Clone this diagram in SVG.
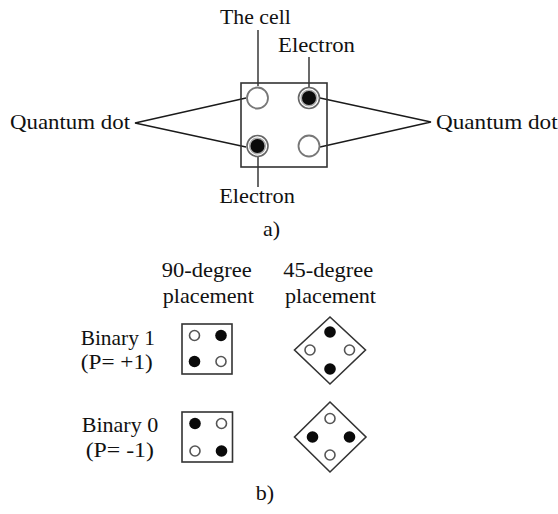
<svg xmlns="http://www.w3.org/2000/svg" width="558" height="514" viewBox="0 0 558 514">
<style>
text{font-family:"Liberation Serif","Times New Roman",serif;font-size:22px;fill:#111;text-anchor:middle}
.ln{stroke:#1a1a1a;stroke-width:1.3;fill:none}
.box{fill:none;stroke:#333;stroke-width:1.6}
.qd{fill:#fff;stroke:#777;stroke-width:1.8}
.el{fill:#0a0a0a;stroke:#aaa;stroke-width:1.6}
.so{fill:#fff;stroke:#555;stroke-width:1.6}
.sf{fill:#0a0a0a;stroke:none}
</style>
<rect width="558" height="514" fill="#fff"/>
<g id="connectors">
<line class="ln" x1="258" y1="30" x2="258" y2="86"/>
<line class="ln" x1="309" y1="57" x2="309" y2="87"/>
<line class="ln" x1="258" y1="157" x2="258" y2="187"/>
<polyline class="ln" points="246,98 135,123 246,147"/>
<polyline class="ln" points="320,98 431,122 320,147"/>
</g>
<g id="cell">
<rect class="box" x="241" y="83" width="86" height="84"/>
<circle id="dot-tl" class="qd" cx="257.5" cy="98" r="10.5"/>
<g id="dot-tr"><circle cx="309" cy="98" r="10.5" fill="#fff" stroke="#666" stroke-width="1.6"/><circle class="el" cx="309" cy="98" r="7.8"/></g>
<g id="dot-bl"><circle cx="257.5" cy="146" r="10.5" fill="#fff" stroke="#666" stroke-width="1.6"/><circle class="el" cx="257.5" cy="146" r="7.8"/></g>
<circle id="dot-br" class="qd" cx="309" cy="146" r="10.5"/>
</g>
<g id="labels-a">
<text x="255.4" y="24" textLength="70.7" lengthAdjust="spacingAndGlyphs">The cell</text>
<text x="316.5" y="52" textLength="77" lengthAdjust="spacingAndGlyphs">Electron</text>
<text x="257" y="203" textLength="75.7" lengthAdjust="spacingAndGlyphs">Electron</text>
<text x="70" y="129" textLength="120" lengthAdjust="spacingAndGlyphs">Quantum dot</text>
<text x="496.8" y="129" textLength="121.7" lengthAdjust="spacingAndGlyphs">Quantum dot</text>
<text x="271.5" y="236">a)</text>
</g>
<g id="labels-b">
<text x="206.7" y="277" textLength="90" lengthAdjust="spacingAndGlyphs">90-degree</text>
<text x="208.3" y="303" textLength="91" lengthAdjust="spacingAndGlyphs">placement</text>
<text x="328.3" y="277" textLength="90" lengthAdjust="spacingAndGlyphs">45-degree</text>
<text x="330.5" y="303" textLength="91" lengthAdjust="spacingAndGlyphs">placement</text>
<text x="117.8" y="345" textLength="74.3" lengthAdjust="spacingAndGlyphs">Binary 1</text>
<text x="116.8" y="369" textLength="72" lengthAdjust="spacingAndGlyphs">(P= +1)</text>
<text x="120" y="432" textLength="76.6" lengthAdjust="spacingAndGlyphs">Binary 0</text>
<text x="119.8" y="457" textLength="68.3" lengthAdjust="spacingAndGlyphs">(P= -1)</text>
<text x="265" y="500">b)</text>
</g>
<g id="b1-90">
<rect class="box" x="182" y="324" width="50" height="50"/>
<circle class="so" cx="194.5" cy="335.5" r="5"/>
<circle class="sf" cx="221" cy="335.5" r="5.8"/>
<circle class="sf" cx="194.5" cy="361.5" r="5.8"/>
<circle class="so" cx="221" cy="361.5" r="5"/>
</g>
<g id="b1-45">
<polygon class="box" points="330,317 365.5,350 330,384 294.5,350"/>
<circle class="sf" cx="330" cy="332" r="5.8"/>
<circle class="so" cx="310" cy="350" r="5"/>
<circle class="so" cx="349.5" cy="350" r="5"/>
<circle class="sf" cx="330" cy="369" r="5.8"/>
</g>
<g id="b0-90">
<rect class="box" x="182" y="412" width="50.5" height="50"/>
<circle class="sf" cx="195" cy="423.5" r="5.8"/>
<circle class="so" cx="221.5" cy="423.5" r="5"/>
<circle class="so" cx="195" cy="451" r="5"/>
<circle class="sf" cx="221.5" cy="451" r="5.8"/>
</g>
<g id="b0-45">
<polygon class="box" points="330,402 366,437 330,472 294.5,437"/>
<circle class="so" cx="330" cy="418.5" r="5"/>
<circle class="sf" cx="312.5" cy="437" r="5.8"/>
<circle class="sf" cx="349.5" cy="437" r="5.8"/>
<circle class="so" cx="330" cy="455" r="5"/>
</g>
</svg>
